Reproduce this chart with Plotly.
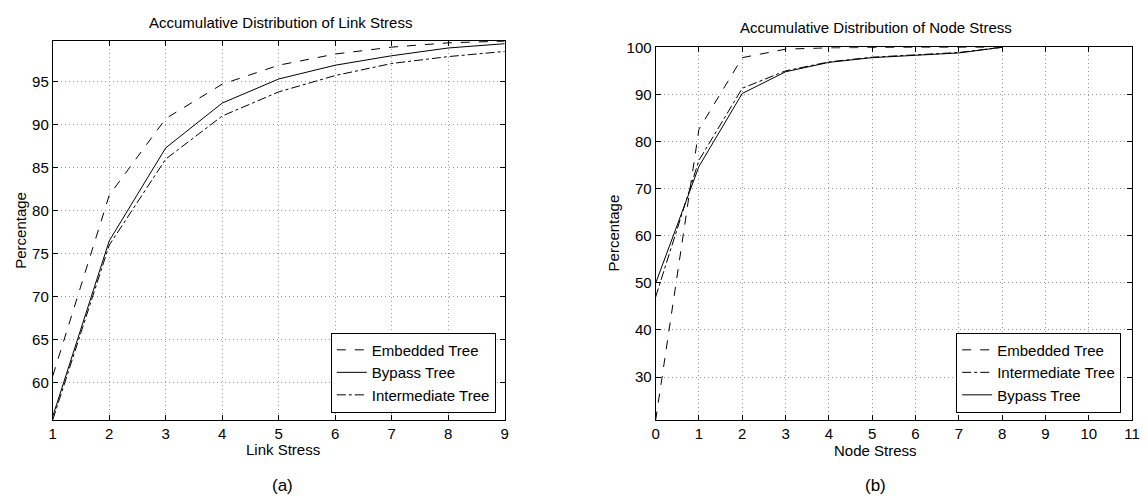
import plotly.graph_objects as go

# ---- data (a) Link stress ----
link_x = [1, 2, 3, 4, 5, 6, 7, 8, 9]
link_embedded = [60.8, 81.8, 90.7, 94.7, 96.9, 98.2, 99.0, 99.5, 99.7]
link_bypass = [56.1, 76.5, 87.3, 92.5, 95.3, 96.9, 98.0, 98.9, 99.4]
link_intermediate = [55.7, 76.0, 86.0, 91.0, 93.8, 95.7, 97.1, 97.9, 98.5]
link_yticks = [60, 65, 70, 75, 80, 85, 90, 95]

# ---- data (b) Node stress ----
node_x = [0, 1, 2, 3, 4, 5, 6, 7, 8]
node_embedded = [20.8, 82.6, 97.8, 99.6, 99.9, 100, 100, 100, 100]
node_intermediate = [47.0, 76.0, 91.3, 95.0, 96.9, 97.9, 98.4, 98.9, 100]
node_bypass = [49.9, 74.7, 90.2, 94.8, 96.8, 97.8, 98.3, 98.8, 100]
node_xticks = [0, 1, 2, 3, 4, 5, 6, 7, 8, 9, 10, 11]
node_yticks = [30, 40, 50, 60, 70, 80, 90, 100]

W, H = 1148, 499
FONT = "Liberation Sans, Arial, Helvetica, sans-serif"


def px(x):
    return x / W


def py(y):
    return 1 - y / H


fig = go.Figure()
line = dict(color="black", width=1)

fig.add_trace(go.Scatter(x=link_x, y=link_embedded, mode="lines", name="Embedded Tree",
                         line=dict(line, dash="dash"), xaxis="x", yaxis="y", legend="legend"))
fig.add_trace(go.Scatter(x=link_x, y=link_bypass, mode="lines", name="Bypass Tree",
                         line=dict(line, dash="solid"), xaxis="x", yaxis="y", legend="legend"))
fig.add_trace(go.Scatter(x=link_x, y=link_intermediate, mode="lines", name="Intermediate Tree",
                         line=dict(line, dash="dashdot"), xaxis="x", yaxis="y", legend="legend"))

fig.add_trace(go.Scatter(x=node_x, y=node_embedded, mode="lines", name="Embedded Tree",
                         line=dict(line, dash="dash"), xaxis="x2", yaxis="y2", legend="legend2"))
fig.add_trace(go.Scatter(x=node_x, y=node_intermediate, mode="lines", name="Intermediate Tree",
                         line=dict(line, dash="dashdot"), xaxis="x2", yaxis="y2", legend="legend2"))
fig.add_trace(go.Scatter(x=node_x, y=node_bypass, mode="lines", name="Bypass Tree",
                         line=dict(line, dash="solid"), xaxis="x2", yaxis="y2", legend="legend2"))

axis_common = dict(
    showline=True, linecolor="black", linewidth=1, mirror="ticks",
    ticks="inside", ticklen=5, tickcolor="black", tickwidth=1,
    showgrid=True, gridcolor="#999999", gridwidth=1, griddash="1px,3px",
    zeroline=False, tickfont=dict(family=FONT, size=15, color="black"),
)

fig.update_layout(
    width=W, height=H,
    margin=dict(l=0, r=0, t=0, b=0),
    paper_bgcolor="white", plot_bgcolor="white",
    font=dict(family=FONT, color="black"),
    xaxis=dict(axis_common, domain=[px(49.3), px(506)], range=[1, 9], tickvals=link_x,
               anchor="y"),
    yaxis=dict(axis_common, domain=[py(418.3), py(32.7)], range=[55.7, 99.7],
               tickvals=link_yticks, anchor="x"),
    xaxis2=dict(axis_common, domain=[px(658.5), px(1140)], range=[0, 11],
                tickvals=node_xticks, anchor="y2"),
    yaxis2=dict(axis_common, domain=[py(419), py(39)], range=[20.8, 100],
                tickvals=node_yticks, anchor="x2"),
    legend=dict(x=px(497), y=py(411), xanchor="right", yanchor="bottom",
                bordercolor="black", borderwidth=1, bgcolor="white",
                font=dict(family=FONT, size=15), tracegroupgap=0),
    legend2=dict(x=px(1129), y=py(411), xanchor="right", yanchor="bottom",
                 bordercolor="black", borderwidth=1, bgcolor="white",
                 font=dict(family=FONT, size=15), tracegroupgap=0),
    showlegend=True,
)

ann = [
    ("Accumulative Distribution of Link Stress", 279, 14, 15, 0),
    ("Accumulative Distribution of Node Stress", 881, 19, 15, 0),
    ("Link Stress", 282, 449, 15, 0),
    ("Node Stress", 881, 450, 15, 0),
    ("Percentage", 17, 225, 15, -90),
    ("Percentage", 616, 228, 15, -90),
    ("(a)", 281, 485, 17, 0),
    ("(b)", 881, 485, 17, 0),
]
for text, x, y, size, angle in ann:
    fig.add_annotation(text=text, x=px(x), y=py(y), xref="paper", yref="paper",
                       showarrow=False, textangle=angle, xanchor="center", yanchor="middle",
                       font=dict(family=FONT, size=size, color="black"))

fig.write_html("out.html", config={"displayModeBar": False},
               post_script="document.body.style.margin='0';")
